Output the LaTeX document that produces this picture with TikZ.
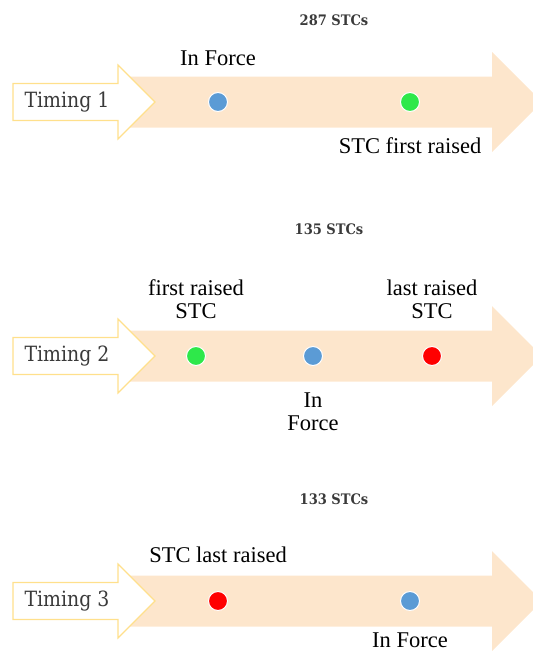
\documentclass[tikz,border=0pt]{standalone}
\usepackage{fontspec}
\setmainfont{Liberation Serif}
\newfontfamily\timingfont[FakeStretch=0.9]{DejaVu Serif}
\definecolor{bandfill}{HTML}{FDE6CC}
\definecolor{tagedge}{HTML}{FFE08C}
\definecolor{tagtext}{HTML}{3A3A3A}
\definecolor{dotblue}{HTML}{5B9BD5}
\definecolor{dotgreen}{HTML}{2EE84A}
\definecolor{dotred}{HTML}{FF0000}
\begin{document}
\begin{tikzpicture}[x=1pt,y=-1pt,
  dot/.style={circle,draw=white,line width=1pt,minimum size=19pt,inner sep=0pt},
  lbl/.style={font=\fontsize{22.5}{23}\selectfont,align=center,inner sep=0pt},
  tag/.style={font=\timingfont\fontsize{21}{24}\selectfont,text=tagtext,inner sep=0pt},
  count/.style={font=\timingfont\bfseries\fontsize{14.5}{16}\selectfont,text=tagtext,inner sep=0pt}]
  \useasboundingbox (0,0) rectangle (533,651);
  \def\rowA{102} % centre line of timing 1
  \def\rowB{356} % centre line of timing 2
  \def\rowC{601} % centre line of timing 3
  % big peach arrows (tip runs past the right edge)
  \fill[bandfill] (120,\rowA-25.5) -- (492,\rowA-25.5) -- (492,\rowA-50) -- (542,\rowA) -- (492,\rowA+50) -- (492,\rowA+25.5) -- (120,\rowA+25.5) -- cycle;
  \fill[bandfill] (120,\rowB-25.5) -- (492,\rowB-25.5) -- (492,\rowB-50) -- (542,\rowB) -- (492,\rowB+50) -- (492,\rowB+25.5) -- (120,\rowB+25.5) -- cycle;
  \fill[bandfill] (120,\rowC-25.5) -- (492,\rowC-25.5) -- (492,\rowC-50) -- (542,\rowC) -- (492,\rowC+50) -- (492,\rowC+25.5) -- (120,\rowC+25.5) -- cycle;
  % small white tag arrows
  \draw[tagedge,line width=1.2pt,fill=white] (13,\rowA-18.5) -- (118,\rowA-18.5) -- (118,\rowA-37) -- (155,\rowA) -- (118,\rowA+37) -- (118,\rowA+18.5) -- (13,\rowA+18.5) -- cycle;
  \draw[tagedge,line width=1.2pt,fill=white] (13,\rowB-18.5) -- (118,\rowB-18.5) -- (118,\rowB-37) -- (155,\rowB) -- (118,\rowB+37) -- (118,\rowB+18.5) -- (13,\rowB+18.5) -- cycle;
  \draw[tagedge,line width=1.2pt,fill=white] (13,\rowC-18.5) -- (118,\rowC-18.5) -- (118,\rowC-37) -- (155,\rowC) -- (118,\rowC+37) -- (118,\rowC+18.5) -- (13,\rowC+18.5) -- cycle;
  \node[tag] (timing1) at (67,\rowA) {Timing 1};
  \node[tag] (timing2) at (67,\rowB) {Timing 2};
  \node[tag] (timing3) at (67,\rowC) {Timing 3};
  % counts above each row
  \node[count] (count1) at (334,20) {287 STCs};
  \node[count] (count2) at (329,229) {135 STCs};
  \node[count] (count3) at (334,499) {133 STCs};
  % timing 1: in force, then first raised
  \node[dot,fill=dotblue] (force1) at (218,\rowA) {};
  \node[dot,fill=dotgreen] (first1) at (410,\rowA) {};
  \node[lbl] (force1lbl) at (218,58) {In Force};
  \node[lbl] (first1lbl) at (410,146) {STC first raised};
  % timing 2: first raised, in force, last raised
  \node[dot,fill=dotgreen] (first2) at (196,\rowB) {};
  \node[dot,fill=dotblue] (force2) at (313,\rowB) {};
  \node[dot,fill=dotred] (last2) at (432,\rowB) {};
  \node[lbl] (first2lbl) at (196,299) {first raised\\STC};
  \node[lbl] (last2lbl) at (432,299) {last raised\\STC};
  \node[lbl] (force2lbl) at (313,412) {In\\Force};
  % timing 3: last raised, then in force
  \node[dot,fill=dotred] (last3) at (218,\rowC) {};
  \node[dot,fill=dotblue] (force3) at (410,\rowC) {};
  \node[lbl] (last3lbl) at (218,555) {STC last raised};
  \node[lbl] (force3lbl) at (410,640) {In Force};
\end{tikzpicture}
\end{document}
